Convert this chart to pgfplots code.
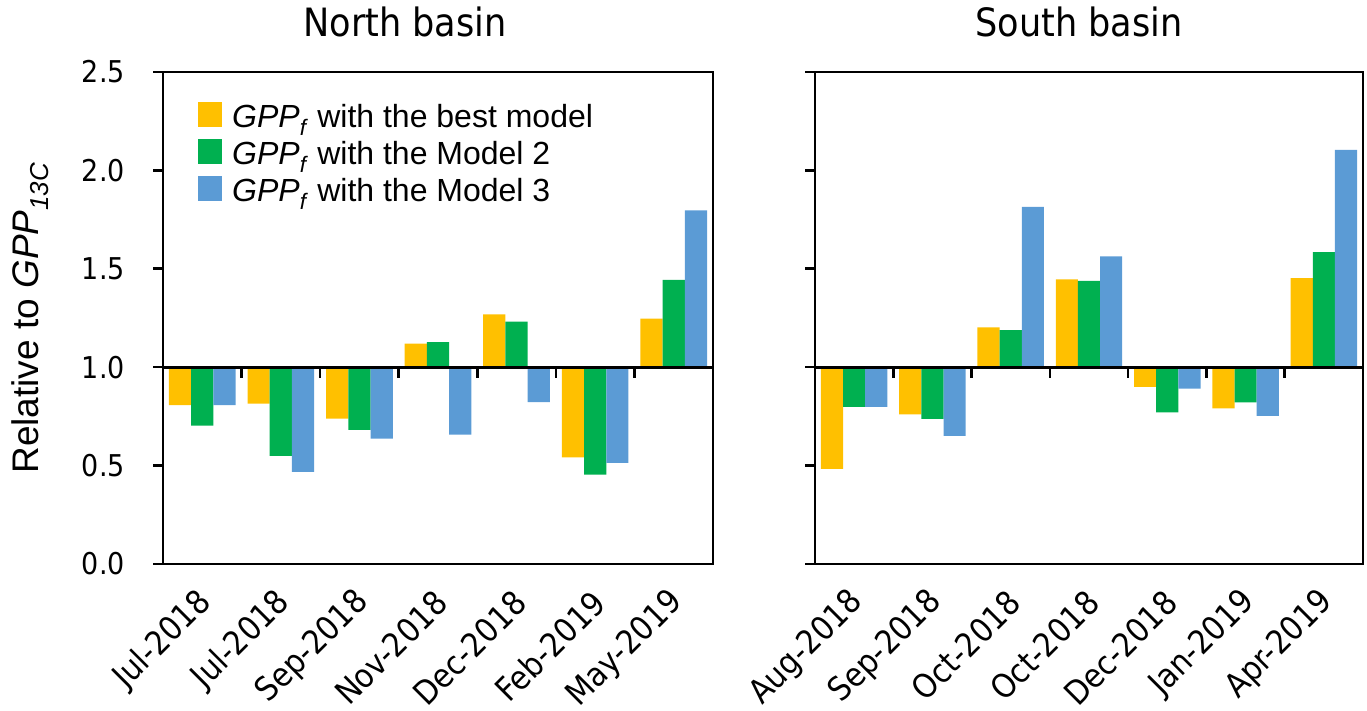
\documentclass[border=0pt]{standalone}
\usepackage{pgfplots}
\pgfplotsset{compat=1.18}
\usepackage{pgfplotstable}
\usepackage{fontspec}
\setmainfont{Liberation Sans}
\newfontfamily\tah{DejaVu Sans Condensed}

\definecolor{cBest}{RGB}{255,192,0}
\definecolor{cM2}{RGB}{0,176,80}
\definecolor{cM3}{RGB}{91,155,213}

% GPP_f relative to GPP_13C, one row per sampling campaign
\pgfplotstableread{
idx best  mtwo  mthree
0   0.807 0.703 0.807
1   0.815 0.549 0.468
2   0.739 0.681 0.637
3   1.120 1.127 0.658
4   1.268 1.231 0.822
5   0.542 0.454 0.514
6   1.247 1.444 1.797
}\north
\pgfplotstableread{
idx best  mtwo  mthree
0   0.483 0.798 0.798
1   0.760 0.738 0.651
2   1.202 1.189 1.815
3   1.446 1.439 1.563
4   0.900 0.770 0.891
5   0.791 0.821 0.753
6   1.452 1.585 2.104
}\south

\pgfplotsset{
  basinaxis/.style={
    scale only axis,
    width=550pt, height=492pt,
    xmin=-0.5, xmax=6.5,
    ymin=-1, ymax=1.5,
    axis line style={line width=2.6pt},
    xtick={0,...,6},
    xtick style={draw=none},
    ytick={-1,-0.5,0,0.5,1,1.5},
    ytick pos=left,
    tick align=outside,
    major tick length=10pt,
    every tick/.style={black, line width=2.6pt},
    ytick style={line width=2.6pt},
    yticklabel style={inner sep=0pt, xshift=-28pt, font=\tah\fontsize{30}{32}\selectfont},
    xticklabel style={inner sep=0pt, xshift=4pt, yshift=-23pt, rotate=45, anchor=east,
      font=\tah\fontsize{33}{35}\selectfont},
    ybar, bar width=0.283,
    clip=false,
    title style={font=\tah\fontsize{39}{41}\selectfont, anchor=base, yshift=29pt},
  },
  sbest/.style={fill=cBest, draw=none, bar shift=-0.283},
  smtwo/.style={fill=cM2, draw=none, bar shift=0},
  smthree/.style={fill=cM3, draw=none, bar shift=0.283},
}

\begin{document}
\begin{tikzpicture}
\useasboundingbox (0,0) rectangle (1367pt,711pt);

\begin{axis}[basinaxis,
  at={(163pt,147pt)}, anchor=south west,
  title={North basin}, title style={at={(rel axis cs:0.44,1)}},
  yticklabels={0.0,0.5,1.0,1.5,2.0,2.5},
  xticklabels={Jul-2018,Jul-2018,Sep-2018,Nov-2018,Dec-2018,Feb-2019,May-2019},
  ylabel={Relative to \textit{GPP}\textsubscript{\textit{13C}}},
  every axis y label/.style={at={(axis description cs:-0.2418,0.5)}, rotate=90, anchor=center,
    font=\fontsize{37}{40}\selectfont},
  legend cell align=left,
  legend image code/.code={\path[#1] (0pt,-8pt) rectangle (24pt,17pt);},
  legend style={draw=none, fill=none, at={(rel axis cs:0.0636,0.939)}, anchor=north west,
    font=\fontsize{32}{34}\selectfont, inner sep=0pt, row sep=4.5pt, column sep=10pt,
    nodes={inner sep=0pt, text height=24pt, text depth=7pt}},
]
\addplot[sbest] table[x=idx, y expr=\thisrow{best}-1] {\north};
\addplot[smtwo] table[x=idx, y expr=\thisrow{mtwo}-1] {\north};
\addplot[smthree] table[x=idx, y expr=\thisrow{mthree}-1] {\north};
\legend{\textit{GPP}\textsubscript{\textit{f}} with the best model,
        \textit{GPP}\textsubscript{\textit{f}} with the Model 2,
        \textit{GPP}\textsubscript{\textit{f}} with the Model 3}
\draw[line width=2.8pt] (axis cs:-0.5,0) -- (axis cs:6.5,0);
\pgfplotsinvokeforeach{0.5,1.5,2.5,3.5,4.5,5.5}{
  \draw[line width=2.6pt] (axis cs:#1,0) -- ++(0pt,-11pt);
}
\end{axis}

\begin{axis}[basinaxis,
  at={(815pt,147pt)}, anchor=south west, width=548pt,
  title={South basin}, title style={at={(rel axis cs:0.482,1)}},
  yticklabels={},
  xticklabels={Aug-2018,Sep-2018,Oct-2018,Oct-2018,Dec-2018,Jan-2019,Apr-2019},
]
\addplot[sbest] table[x=idx, y expr=\thisrow{best}-1] {\south};
\addplot[smtwo] table[x=idx, y expr=\thisrow{mtwo}-1] {\south};
\addplot[smthree] table[x=idx, y expr=\thisrow{mthree}-1] {\south};
\draw[line width=2.8pt] (axis cs:-0.5,0) -- (axis cs:6.5,0);
\pgfplotsinvokeforeach{0.5,1.5,2.5,3.5,4.5,5.5}{
  \draw[line width=2.6pt] (axis cs:#1,0) -- ++(0pt,-11pt);
}
\end{axis}
\end{tikzpicture}
\end{document}
